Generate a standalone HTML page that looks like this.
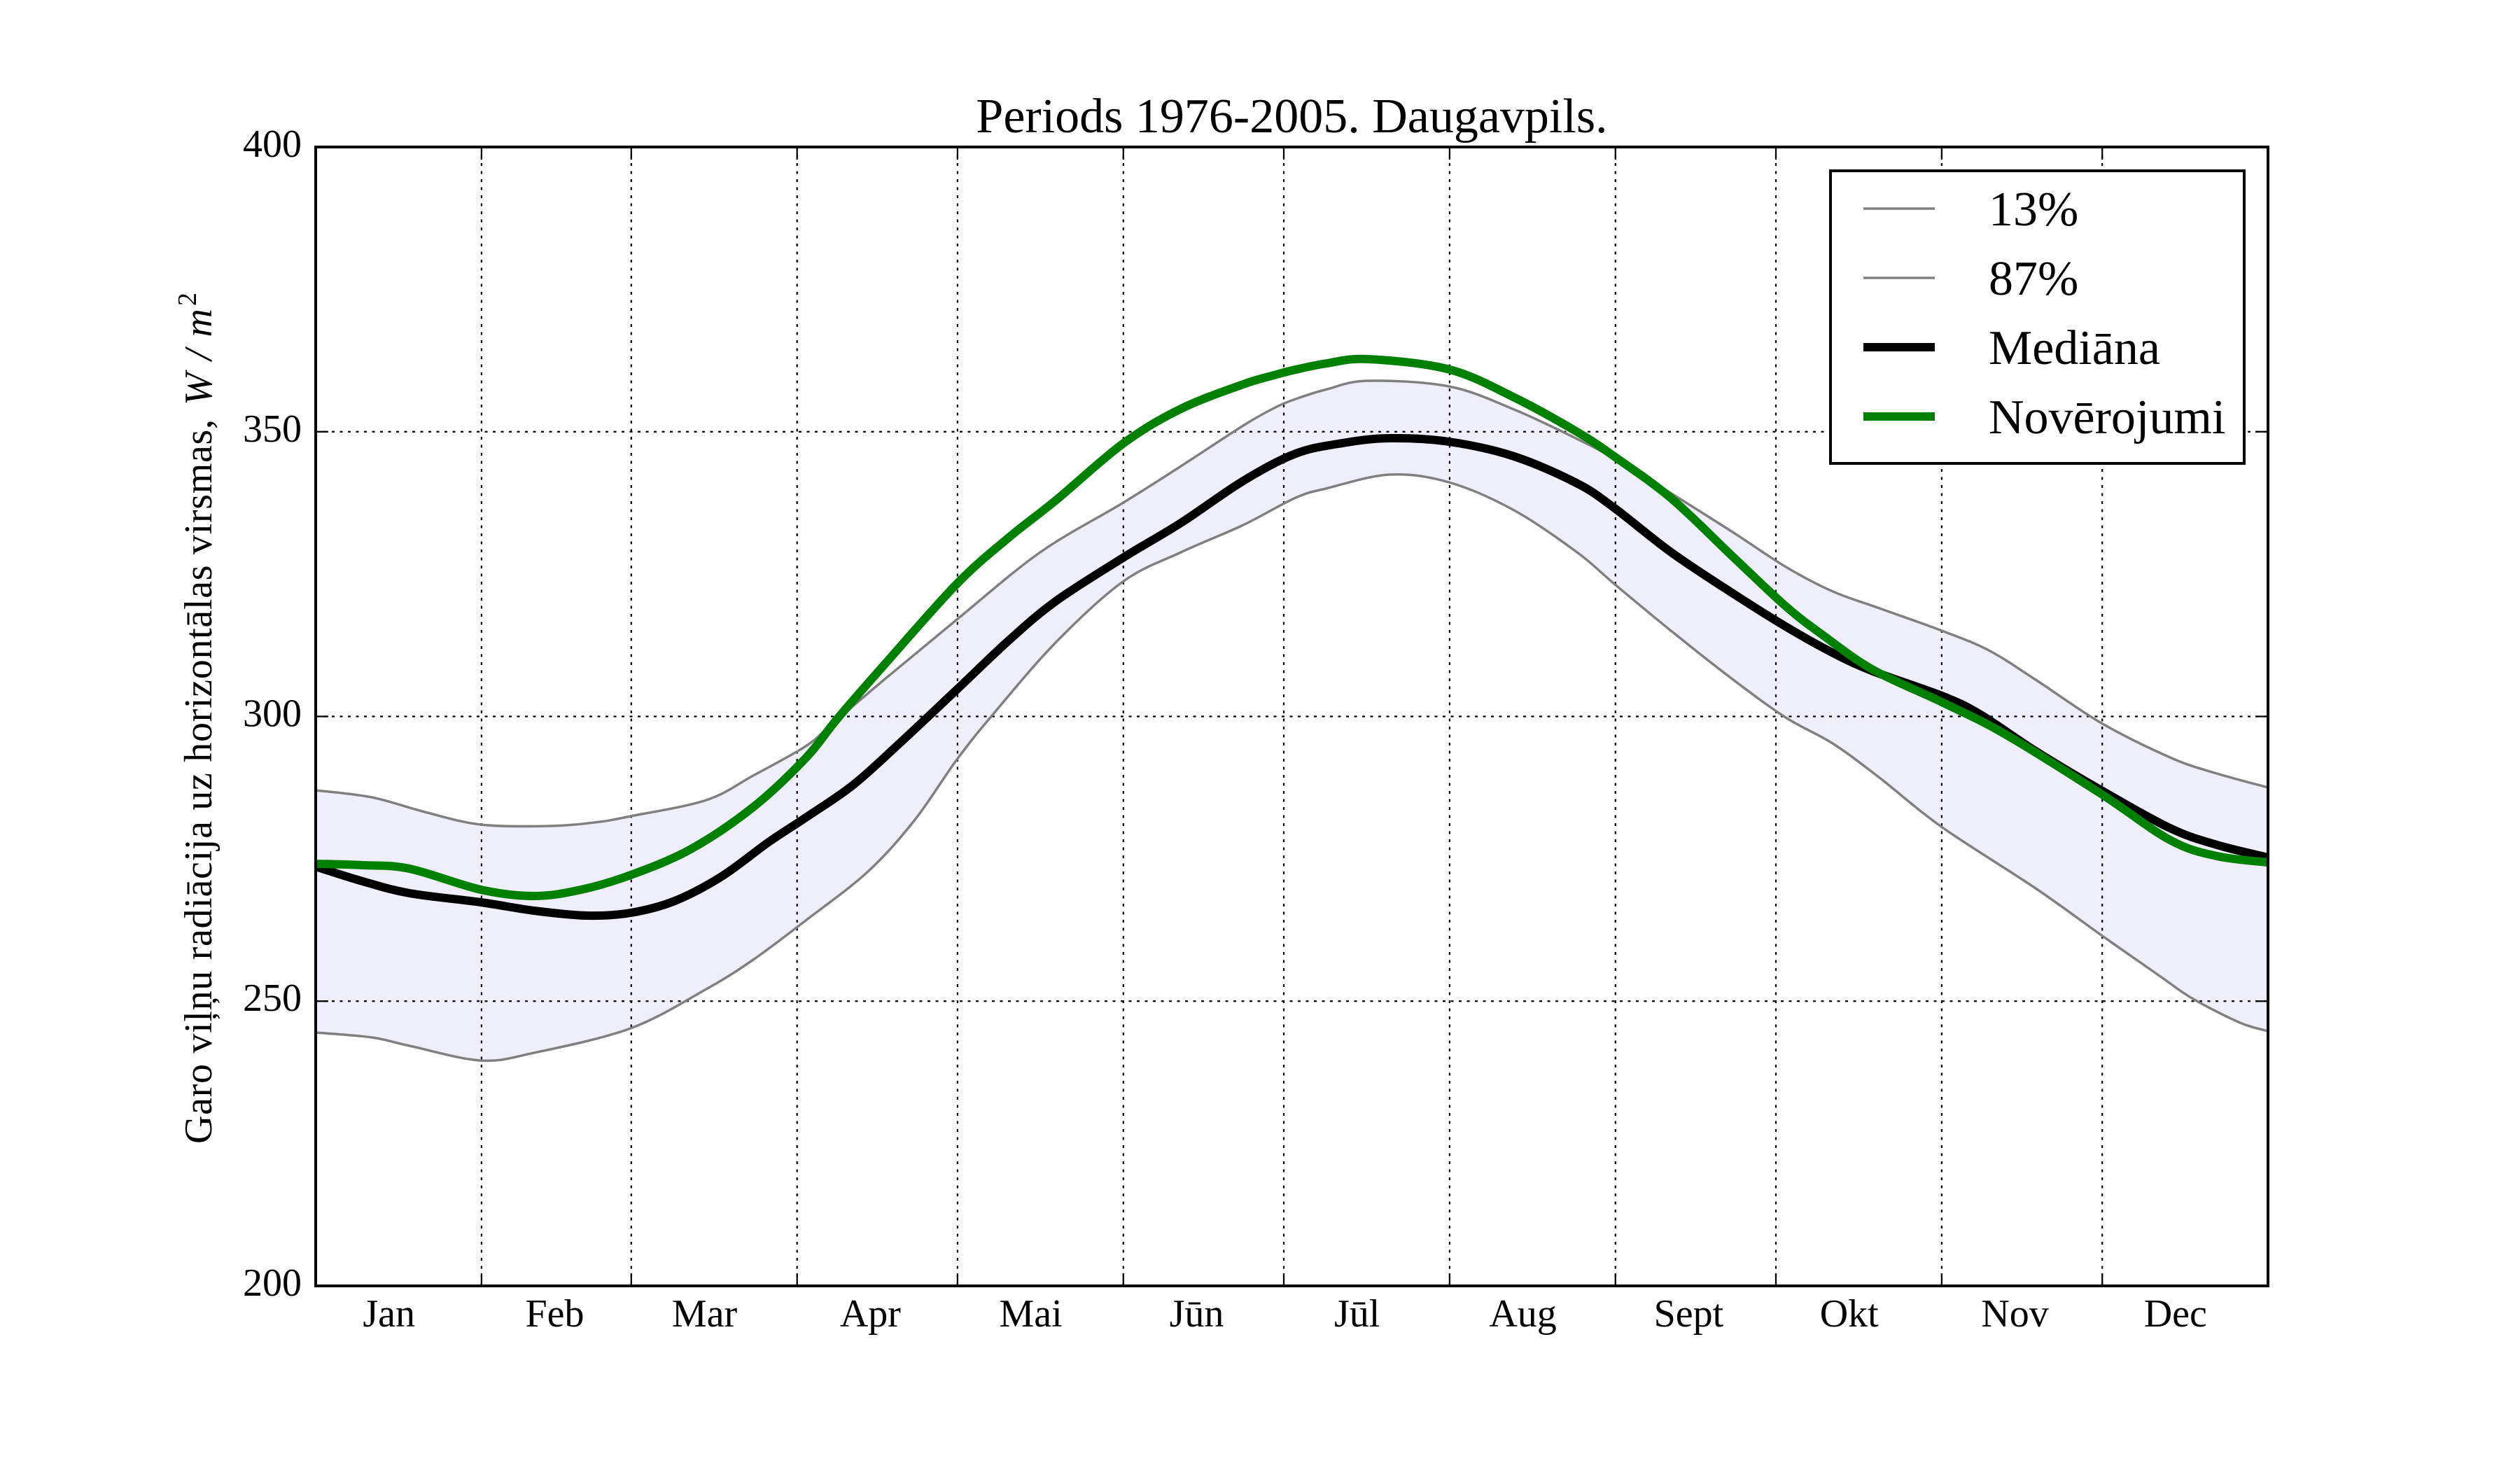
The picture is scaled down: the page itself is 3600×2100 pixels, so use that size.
<!DOCTYPE html>
<html>
<head>
<meta charset="utf-8">
<style>
html,body{margin:0;padding:0;background:#fff;}
svg{display:block;}
text{font-family:"Liberation Serif","DejaVu Serif",serif;fill:#000;}
</style>
</head>
<body>
<svg width="3600" height="2100" viewBox="0 0 3600 2100">
<rect x="0" y="0" width="3600" height="2100" fill="#fff"/>

<!-- percentile band -->
<path id="band" fill="#efeffc" stroke="none" d="M451,1129 L531,1139 L607,1160 L687,1178 L786,1180 L853,1174.5 L901,1166 L1009,1143 L1076,1108 L1151,1066 L1189,1034 L1263,971 L1367,885 L1486,789 L1604,718.5 L1687,666 L1776,608 L1820,583 L1851,570 L1896,556 L1954,544 L2070,552 L2163,585 L2253,627 L2306,655 L2387,704.5 L2476,760.6 L2551,809.7 L2618,844.8 L2685,869 L2774,901 L2841,929 L2908,971 L3002,1033 L3100,1082 L3160,1103 L3240,1125 L3240,1473 L3200,1461 L3133,1427 L3087,1395.5 L3002,1336 L2908,1269 L2774,1181.5 L2685,1111 L2618,1062 L2551,1025 L2476,971 L2387,901 L2306,834 L2253,789 L2163,729 L2070,689 L1985,678 L1896,697.5 L1851,711 L1776,750 L1687,789 L1604,831 L1508,918 L1419,1020 L1367,1085 L1307,1171 L1240,1245 L1151,1315 L1076,1371 L1009,1413 L901,1469 L763,1504 L687,1515 L585,1494 L531,1482 L451,1475 Z"/>

<!-- grid -->
<g stroke="#000" stroke-width="2.2" stroke-dasharray="4,7.5" fill="none">
  <line x1="451" y1="616.75" x2="3240" y2="616.75"/>
  <line x1="451" y1="1023.5" x2="3240" y2="1023.5"/>
  <line x1="451" y1="1430.25" x2="3240" y2="1430.25"/>
  <line x1="687.9" y1="210" x2="687.9" y2="1837"/>
  <line x1="901.8" y1="210" x2="901.8" y2="1837"/>
  <line x1="1138.7" y1="210" x2="1138.7" y2="1837"/>
  <line x1="1367.9" y1="210" x2="1367.9" y2="1837"/>
  <line x1="1604.8" y1="210" x2="1604.8" y2="1837"/>
  <line x1="1834" y1="210" x2="1834" y2="1837"/>
  <line x1="2070.9" y1="210" x2="2070.9" y2="1837"/>
  <line x1="2307.8" y1="210" x2="2307.8" y2="1837"/>
  <line x1="2537" y1="210" x2="2537" y2="1837"/>
  <line x1="2773.9" y1="210" x2="2773.9" y2="1837"/>
  <line x1="3003.2" y1="210" x2="3003.2" y2="1837"/>
</g>

<!-- series -->
<g fill="none" stroke-linejoin="round" stroke-linecap="butt">
<path id="u" class="sm" stroke="#808080" stroke-width="3.5" d="M451,1129 L531,1139 L607,1160 L687,1178 L786,1180 L853,1174.5 L901,1166 L1009,1143 L1076,1108 L1151,1066 L1189,1034 L1263,971 L1367,885 L1486,789 L1604,718.5 L1687,666 L1776,608 L1820,583 L1851,570 L1896,556 L1954,544 L2070,552 L2163,585 L2253,627 L2306,655 L2387,704.5 L2476,760.6 L2551,809.7 L2618,844.8 L2685,869 L2774,901 L2841,929 L2908,971 L3002,1033 L3100,1082 L3160,1103 L3240,1125"/>
<path id="l" class="sm" stroke="#808080" stroke-width="3.5" d="M451,1475 L531,1482 L585,1494 L687,1515 L763,1504 L901,1469 L1009,1413 L1076,1371 L1151,1315 L1240,1245 L1307,1171 L1367,1085 L1419,1020 L1508,918 L1604,831 L1687,789 L1776,750 L1851,711 L1896,697.5 L1985,678 L2070,689 L2163,729 L2253,789 L2306,834 L2387,901 L2476,971 L2551,1025 L2618,1062 L2685,1111 L2774,1181.5 L2908,1269 L3002,1336 L3087,1395.5 L3133,1427 L3200,1461 L3240,1473"/>
<path class="sm" stroke="#000" stroke-width="12" d="M451,1238 L518,1259 L585,1276 L687,1289 L763,1301 L839,1308 L901,1304 L964,1287 L1031,1252 L1098,1203 L1151,1168 L1218,1122 L1285,1062 L1367,985 L1441,915 L1508,859 L1604,797 L1687,747 L1776,687 L1851,648 L1918,633 L1985,626 L2070,631 L2163,652 L2253,690.5 L2306,725.5 L2387,788.7 L2476,848 L2551,895 L2618,932.5 L2676,959 L2774,994 L2828,1020 L2908,1073 L3000,1128 L3100,1183 L3167,1207 L3240,1225"/>
<path class="sm" stroke="#008000" stroke-width="12" d="M451,1234 L518,1236 L585,1241 L687,1271 L763,1280 L830,1271 L901,1250 L987,1213 L1076,1153 L1151,1083 L1196,1027 L1263,950 L1367,834 L1441,768 L1508,715 L1604,634 L1687,584 L1776,549 L1820,536 L1851,528 L1896,519 L1954,513 L2070,527.7 L2163,567.7 L2253,617 L2306,652 L2387,711.5 L2476,795.7 L2551,866 L2605,908 L2676,957 L2774,1003 L2863,1048 L3000,1133 L3100,1200 L3167,1223 L3240,1232"/>
</g>

<!-- ticks -->
<g stroke="#000" stroke-width="2.2">
  <path d="M451,616.75 h18 M451,1023.5 h18 M451,1430.25 h18 M3240,616.75 h-18 M3240,1023.5 h-18 M3240,1430.25 h-18"/>
  <path d="M687.9,1837 v-18 M901.8,1837 v-18 M1138.7,1837 v-18 M1367.9,1837 v-18 M1604.8,1837 v-18 M1834,1837 v-18 M2070.9,1837 v-18 M2307.8,1837 v-18 M2537,1837 v-18 M2773.9,1837 v-18 M3003.2,1837 v-18"/>
  <path d="M687.9,210 v18 M901.8,210 v18 M1138.7,210 v18 M1367.9,210 v18 M1604.8,210 v18 M1834,210 v18 M2070.9,210 v18 M2307.8,210 v18 M2537,210 v18 M2773.9,210 v18 M3003.2,210 v18"/>
</g>

<!-- frame -->
<rect x="451" y="210" width="2789" height="1627" fill="none" stroke="#000" stroke-width="4"/>

<!-- y tick labels -->
<g font-size="56" text-anchor="end">
  <text x="431" y="224">400</text>
  <text x="431" y="631">350</text>
  <text x="431" y="1037.5">300</text>
  <text x="431" y="1444">250</text>
  <text x="431" y="1851">200</text>
</g>

<!-- x tick labels -->
<g font-size="56" text-anchor="middle">
  <text x="555.7" y="1895">Jan</text>
  <text x="792.5" y="1895">Feb</text>
  <text x="1006.5" y="1895">Mar</text>
  <text x="1243.4" y="1895">Apr</text>
  <text x="1472.6" y="1895">Mai</text>
  <text x="1709.5" y="1895">Jūn</text>
  <text x="1938.7" y="1895">Jūl</text>
  <text x="2175.6" y="1895">Aug</text>
  <text x="2412.4" y="1895">Sept</text>
  <text x="2641.7" y="1895">Okt</text>
  <text x="2878.5" y="1895">Nov</text>
  <text x="3107.8" y="1895">Dec</text>
</g>

<!-- title -->
<text x="1845.5" y="189" font-size="70" text-anchor="middle">Periods 1976-2005. Daugavpils.</text>

<!-- y label -->
<g transform="translate(302,1634) rotate(-90)">
  <text x="0" y="0" font-size="56" textLength="1035" lengthAdjust="spacing">Garo viļņu radiācija uz horizontālas virsmas,</text>
  <text x="1055" y="0" font-size="56" font-style="italic" textLength="138" lengthAdjust="spacing">W/m</text>
  <text x="1197" y="-22" font-size="38">2</text>
</g>

<!-- legend -->
<rect x="2615" y="244" width="591" height="418" fill="#fff" stroke="#000" stroke-width="4"/>
<g stroke-linecap="butt">
  <line x1="2662" y1="298" x2="2764" y2="298" stroke="#808080" stroke-width="3.5"/>
  <line x1="2662" y1="397" x2="2764" y2="397" stroke="#808080" stroke-width="3.5"/>
  <line x1="2662" y1="496" x2="2764" y2="496" stroke="#000" stroke-width="12"/>
  <line x1="2662" y1="595" x2="2764" y2="595" stroke="#008000" stroke-width="12"/>
</g>
<g font-size="70">
  <text x="2841" y="322">13%</text>
  <text x="2841" y="421">87%</text>
  <text x="2841" y="520">Mediāna</text>
  <text x="2841" y="619">Novērojumi</text>
</g>
</svg>
<script>
(function(){
  function pts(d){
    var n=d.match(/-?[\d.]+/g).map(Number),p=[];
    for(var i=0;i+1<n.length;i+=2)p.push([n[i],n[i+1]]);
    return p;
  }
  function seg(p){
    var s="";
    for(var i=0;i<p.length-1;i++){
      var p0=p[i-1]||p[i],p1=p[i],p2=p[i+1],p3=p[i+2]||p[i+1];
      var c1x=p1[0]+(p2[0]-p0[0])/6,c1y=p1[1]+(p2[1]-p0[1])/6;
      var c2x=p2[0]-(p3[0]-p1[0])/6,c2y=p2[1]-(p3[1]-p1[1])/6;
      s+=" C"+c1x.toFixed(2)+","+c1y.toFixed(2)+" "+c2x.toFixed(2)+","+c2y.toFixed(2)+" "+p2[0]+","+p2[1];
    }
    return s;
  }
  try{
    var u=pts(document.getElementById("u").getAttribute("d"));
    var l=pts(document.getElementById("l").getAttribute("d"));
    var lr=l.slice().reverse();
    var band="M"+u[0][0]+","+u[0][1]+seg(u)+" L"+lr[0][0]+","+lr[0][1]+seg(lr)+" Z";
    var els=document.querySelectorAll(".sm");
    for(var k=0;k<els.length;k++){
      var p=pts(els[k].getAttribute("d"));
      els[k].setAttribute("d","M"+p[0][0]+","+p[0][1]+seg(p));
    }
    document.getElementById("band").setAttribute("d",band);
  }catch(e){}
})();
</script>
</body>
</html>
